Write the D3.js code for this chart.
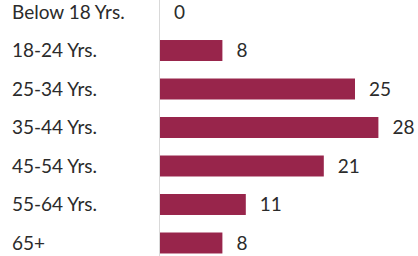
<!DOCTYPE html>
<html>
<head>
<meta charset="utf-8">
<script src="https://cdn.jsdelivr.net/npm/d3@7"></script>
<style>
  html, body { margin: 0; padding: 0; background: #fff; }
  svg { display: block; }
  text { font-family: Lato, "Open Sans", sans-serif; fill: #2b2b2b; }
</style>
</head>
<body>
<svg id="chart" width="418" height="256"></svg>
<script>
const categories = ["Below 18 Yrs.", "18-24 Yrs.", "25-34 Yrs.", "35-44 Yrs.", "45-54 Yrs.", "55-64 Yrs.", "65+"];
const values = [0, 8, 25, 28, 21, 11, 8];

const svg = d3.select("#chart");
const W = 418, H = 256;
const axisX = 160;

const x = d3.scaleLinear().domain([0, 30]).range([axisX, axisX + 7.8 * 30]);
const y = d3.scaleBand().domain(categories).range([-16, 271]).padding(0.455);

// bars
svg.selectAll("rect.bar")
  .data(categories)
  .enter().append("rect")
  .attr("class", "bar")
  .attr("x", x(0))
  .attr("y", d => y(d))
  .attr("width", (d, i) => x(values[i]) - x(0))
  .attr("height", y.bandwidth())
  .attr("fill", "#98254B");

// vertical axis line
svg.append("line")
  .attr("x1", axisX - 0.5).attr("x2", axisX - 0.5)
  .attr("y1", 0).attr("y2", H)
  .attr("stroke", "#d9d9d9").attr("stroke-width", 1);

// category labels
svg.selectAll("text.cat")
  .data(categories)
  .enter().append("text")
  .attr("class", "cat")
  .attr("x", 12)
  .attr("y", d => y(d) + y.bandwidth() / 2)
  .attr("dy", "0.36em")
  .attr("font-size", 19)
  .text(d => d);

// value labels
svg.selectAll("text.val")
  .data(categories)
  .enter().append("text")
  .attr("class", "val")
  .attr("x", (d, i) => x(values[i]) + 14)
  .attr("y", d => y(d) + y.bandwidth() / 2)
  .attr("dy", "0.36em")
  .attr("font-size", 19)
  .text((d, i) => values[i]);
</script>
</body>
</html>
